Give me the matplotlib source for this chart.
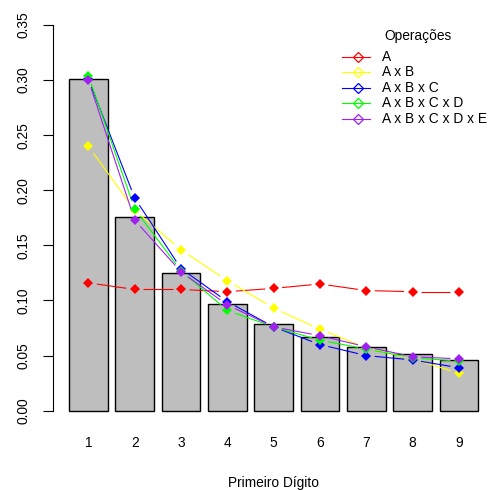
import numpy as np
import matplotlib
matplotlib.use("Agg")
import matplotlib.pyplot as plt
from matplotlib.lines import Line2D

plt.rcParams["font.family"] = ["Liberation Sans", "DejaVu Sans"]

# Benford expected proportions for the first digit
digits = [1, 2, 3, 4, 5, 6, 7, 8, 9]
benford = [0.301, 0.176, 0.125, 0.097, 0.079, 0.067, 0.058, 0.051, 0.046]

# Observed first-digit proportions per operation
op_a = [0.116, 0.110, 0.110, 0.108, 0.111, 0.115, 0.109, 0.108, 0.108]
op_ab = [0.240, 0.182, 0.146, 0.118, 0.093, 0.074, 0.057, 0.047, 0.034]
op_abc = [0.301, 0.193, 0.129, 0.099, 0.076, 0.060, 0.050, 0.046, 0.039]
op_abcd = [0.304, 0.183, 0.127, 0.091, 0.076, 0.064, 0.056, 0.048, 0.045]
op_abcde = [0.300, 0.173, 0.126, 0.096, 0.076, 0.068, 0.058, 0.049, 0.047]

series = [
    ("A", "#FF0000", op_a),
    ("A x B", "#FFFF00", op_ab),
    ("A x B x C", "#0000FF", op_abc),
    ("A x B x C x D", "#00FF00", op_abcd),
    ("A x B x C x D x E", "#A020F0", op_abcde),
]
yticks = [0.00, 0.05, 0.10, 0.15, 0.20, 0.25, 0.30, 0.35]

FS = 9.9
W = H = 490
fig = plt.figure(figsize=(W / 100, H / 100), dpi=100)

# plot region in pixels (left, right, top, bottom)
L, R, T, B = 52.7, 494.6, 9.6, 426.1
ax = fig.add_axes([L / W, 1 - B / H, (R - L) / W, (B - T) / H])
ax.set_xlim(-0.224, 11.224)
ax.set_ylim(-0.014, 0.364)

# barplot positions: width 1, space 0.2
centers = 0.7 + 1.2 * np.arange(len(digits))
ax.bar(centers, benford, width=1.0, color="#BEBEBE", edgecolor="black",
       linewidth=1.0, zorder=1)


def gapped_lines(ax, xs, ys, color, gap=8.5):
    """Line segments between points that stop short of each marker."""
    tr = ax.transData
    inv = tr.inverted()
    pts = tr.transform(np.column_stack([xs, ys]))
    for p, q in zip(pts[:-1], pts[1:]):
        d = q - p
        n = np.hypot(*d)
        if n <= 2 * gap:
            continue
        u = d / n
        a, b = inv.transform(np.vstack([p + u * gap, q - u * gap]))
        ax.plot([a[0], b[0]], [a[1], b[1]], color=color, lw=0.8, zorder=2,
                solid_capstyle="butt")


for k, (label, color, vals) in enumerate(series):
    gapped_lines(ax, centers, vals, color)
    ax.plot(centers, vals, linestyle="none", marker="D", ms=5.6,
            color=color, markeredgewidth=0, zorder=3 + k)

for s in ("top", "right", "bottom"):
    ax.spines[s].set_visible(False)
ax.spines["left"].set_bounds(0, 0.35)
ax.set_yticks(yticks)
ax.set_yticklabels([f"{v:.2f}" for v in yticks], rotation=90, va="center",
                   fontsize=FS)
ax.tick_params(axis="y", length=7.5, width=0.8, pad=8.5)
ax.set_xticks(centers)
ax.set_xticklabels([str(d) for d in digits], fontsize=FS)
ax.tick_params(axis="x", length=0, pad=7)
ax.set_xlabel("Primeiro Dígito", fontsize=FS, labelpad=19)

# legend without box
fig.text(417.7 / W, 1 - 36 / H, "Operações", ha="center", va="center",
         fontsize=FS)
rows = [56.7, 72.3, 88.3, 103.3, 119.0]
for (label, color, _), py in zip(series, rows):
    y = 1 - py / H
    fig.add_artist(Line2D([341.7 / W, 370 / W], [y, y], color=color, lw=0.8,
                          transform=fig.transFigure))
    fig.add_artist(Line2D([357.7 / W], [y], marker="D", ms=5, color=color,
                          markerfacecolor="none", markeredgewidth=0.9,
                          transform=fig.transFigure))
    fig.text(381.7 / W, y, label, ha="left", va="center", fontsize=FS)

fig.savefig("out.png", dpi=100)
